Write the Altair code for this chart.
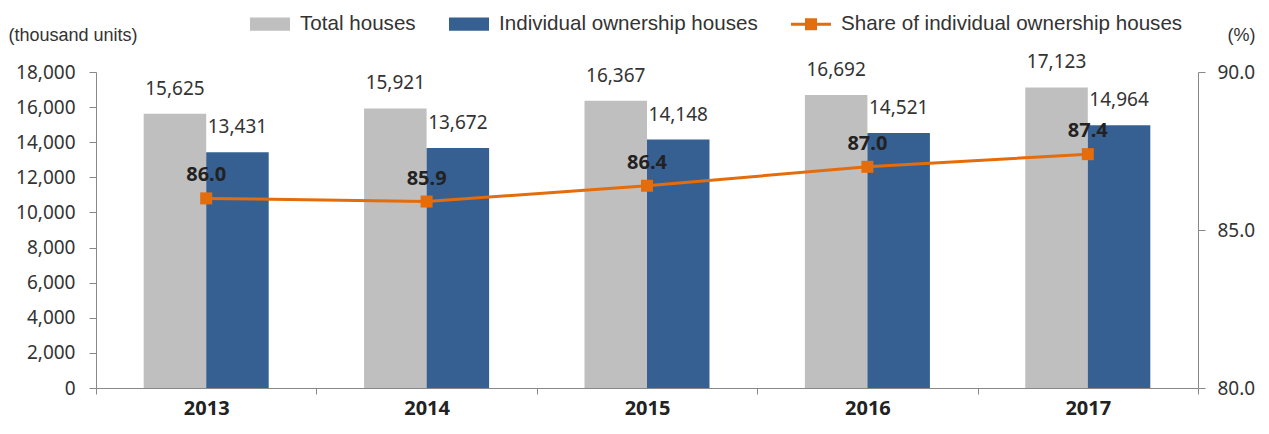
import altair as alt
import pandas as pd

years = ["2013", "2014", "2015", "2016", "2017"]
total_houses = [15625, 15921, 16367, 16692, 17123]
individual_houses = [13431, 13672, 14148, 14521, 14964]
share_pct = [86.0, 85.9, 86.4, 87.0, 87.4]
left_ticks = [0, 2000, 4000, 6000, 8000, 10000, 12000, 14000, 16000, 18000]
right_ticks = [80.0, 85.0, 90.0]
series_names = ["Total houses", "Individual ownership houses",
                "Share of individual ownership houses"]
series_colors = ["#BFBFBF", "#376092", "#E46C0A"]

BAR_PATH = "M-1,-0.33H1V0.33H-1Z"
LINE_PATH = "M-1,-0.075H1V0.075H-1Z M-0.3,-0.3H0.3V0.3H-0.3Z"

bars_df = pd.DataFrame({
    "year": years * 2,
    "series": [series_names[0]] * len(years) + [series_names[1]] * len(years),
    "value": total_houses + individual_houses,
})
share_df = pd.DataFrame({
    "year": years,
    "series": [series_names[2]] * len(years),
    "value": share_pct,
})

legend = alt.Legend(
    title=None, orient="none", legendX=154, legendY=-68, direction="horizontal",
    symbolSize=1600, labelFont="Liberation Sans", labelFontSize=20.6,
    labelColor="#333333", labelOffset=10, columnPadding=33, labelLimit=0,
    symbolStrokeWidth=0, symbolOpacity=1,
)
color = alt.Color("series:N", scale=alt.Scale(domain=series_names, range=series_colors),
                  legend=legend)
shape = alt.Shape("series:N",
                  scale=alt.Scale(domain=series_names, range=[BAR_PATH, BAR_PATH, LINE_PATH]),
                  legend=legend)

x = alt.X("year:N", sort=years,
          scale=alt.Scale(paddingInner=0, paddingOuter=0),
          axis=alt.Axis(title=None, labelFont="Noto Sans", labelFontSize=20,
                        labelFontWeight="bold", labelColor="#222222", labelAngle=0,
                        tickBand="extent", tickSize=6, tickColor="#888888",
                        domainColor="#888888", labelPadding=4, grid=False))

y_left = alt.Y("value:Q", scale=alt.Scale(domain=[0, 18000], nice=False),
               axis=alt.Axis(values=left_ticks, format=",d", title="(thousand units)",
                             titleAngle=0, titleAlign="left", titleBaseline="middle",
                             titleX=-88, titleY=-37, titleFont="Liberation Sans",
                             titleFontSize=18, titleFontWeight="normal", titleColor="#333333",
                             labelFont="Noto Sans", labelFontSize=19, labelColor="#333333",
                             labelPadding=14, tickSize=7, tickColor="#888888",
                             domainColor="#888888", grid=False))

y_right = alt.Y("value:Q", scale=alt.Scale(domain=[80, 90], nice=False, zero=False),
                axis=alt.Axis(orient="right", values=right_ticks, format=".1f", title="(%)",
                              titleAngle=0, titleAlign="left", titleBaseline="middle",
                              titleX=29, titleY=-37, titleFont="Liberation Sans",
                              titleFontSize=18, titleFontWeight="normal", titleColor="#333333",
                              labelFont="Noto Sans", labelFontSize=19, labelColor="#333333",
                              labelPadding=12, tickSize=7, tickColor="#888888",
                              domainColor="#888888", grid=False))

x_off = alt.XOffset("series:N",
                    scale=alt.Scale(domain=series_names[:2], paddingInner=0, paddingOuter=0.763))

bars = alt.Chart(bars_df).mark_bar().encode(x=x, xOffset=x_off, y=y_left, color=color)
bar_labels = alt.Chart(bars_df).mark_text(
    font="Noto Sans", fontSize=19, color="#333333", baseline="alphabetic", dy=-19
).encode(x=x, xOffset=x_off, y=y_left, text=alt.Text("value:Q", format=",d"))

line = alt.Chart(share_df).mark_line(color="#E46C0A", strokeWidth=3).encode(x=x, y=y_right)
points = alt.Chart(share_df).mark_point(
    filled=True, opacity=1, size=144, shape="square", color="#E46C0A"
).encode(x=x, y=y_right)
legend_driver = alt.Chart(share_df).mark_point(filled=True, opacity=0, size=1600).encode(
    x=x, y=y_right, color=color, shape=shape)
line_labels = alt.Chart(share_df).mark_text(
    font="Noto Sans", fontSize=20, fontWeight="bold", color="#222222",
    baseline="alphabetic", dy=-17
).encode(x=x, y=y_right, text=alt.Text("value:Q", format=".1f"))

chart = alt.layer(
    alt.layer(bars, bar_labels),
    alt.layer(line, points, legend_driver, line_labels),
).resolve_scale(y="independent").properties(
    width=1102, height=316,
    padding={"left": 88, "top": 64, "right": 60, "bottom": 34},
    autosize=alt.AutoSizeParams(type="none"),
).configure_view(stroke=None)

chart.save("out.html", embed_options={"renderer": "svg", "actions": False})
